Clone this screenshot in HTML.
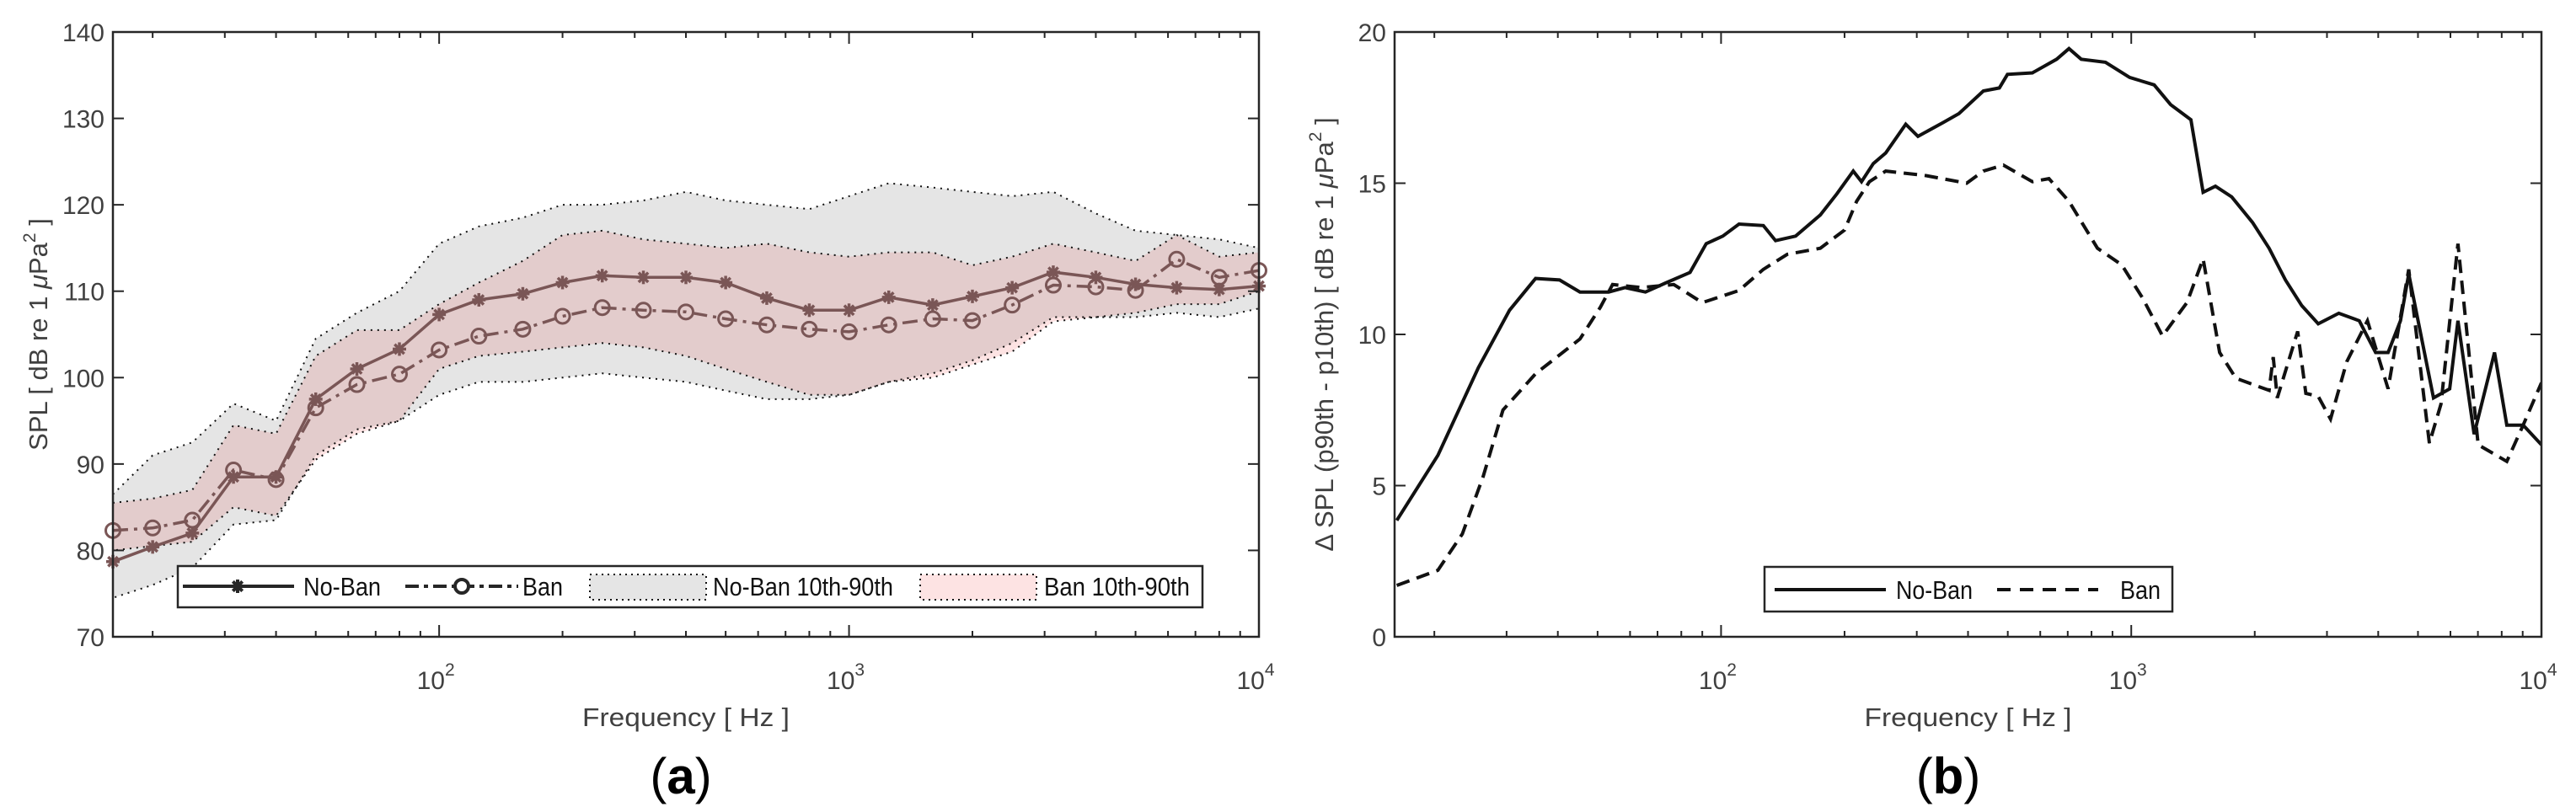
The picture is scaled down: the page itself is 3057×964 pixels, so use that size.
<!DOCTYPE html>
<html><head><meta charset="utf-8"><style>
html,body{margin:0;padding:0;background:#fff;}
svg{display:block;}
text{font-family:"Liberation Sans Narrow","Liberation Sans",sans-serif;}
</style></head><body>
<svg id="fig" width="3057" height="964" viewBox="0 0 3057 964" xmlns="http://www.w3.org/2000/svg">
<g id="pa"></g>
<g id="pb"></g>
</svg>
<script>
// ---------- Panel (a) data ----------
const bandsHz = [16,20,25,31.5,40,50,63,80,100,125,160,200,250,315,400,500,630,800,1000,1250,1600,2000,2500,3150,4000,5000,6300,8000,10000];
const noBanMedian = [78.7,80.4,82.0,88.5,88.5,97.5,101.0,103.3,107.3,109.0,109.7,111.0,111.8,111.6,111.6,111.0,109.2,107.8,107.8,109.3,108.4,109.4,110.4,112.2,111.6,110.8,110.4,110.2,110.6];
const banMedian = [82.3,82.6,83.5,89.3,88.2,96.5,99.2,100.4,103.2,104.8,105.6,107.1,108.1,107.8,107.6,106.8,106.1,105.6,105.3,106.1,106.8,106.6,108.4,110.7,110.5,110.1,113.7,111.6,112.4];
const noBanP90 = [86.5,91,92.5,97,95,104.5,107.5,110,115.5,117.5,118.5,120,120,120.5,121.5,120.5,120,119.5,121,122.5,122,121.5,121,121.5,119,117,116.5,116,115];
const noBanP10 = [74.5,76,78,83,83.5,91,94,95,98,99.5,99.5,100,100.5,100,99.5,98.5,97.5,97.5,98,99.5,100.5,102,104,107,107,107,107.5,107,108];
const banP90 = [85.5,86,87,94.5,93.5,102.5,105.5,105.5,108.5,111,113.5,116.5,117,116,115.5,115,115.5,114.5,114,114.5,114.5,113,114,115.5,114.5,113.5,116.5,114,114.5];
const banP10 = [80,80.5,81,85,84,90.5,93.5,95,101,102.5,103,103.5,104,103.5,102.5,101,99.5,98,98,99.5,100,101.5,103,106.5,107,107.5,108.5,108.5,110];
const yTicksA = [70,80,90,100,110,120,130,140];
// ---------- Panel (b) data ----------
const noBanF = [16.2,20.4,25.6,30.5,35.3,40.4,45.3,53.2,58.3,65.4,73.2,84,92,101,110.6,126.8,135.8,152,174.6,191.6,210,220,235,252,282,302,347,380,436,477,499,574,658,705,755,865,991,1137,1247,1398,1497,1604,1757,1976,2168,2376,2605,2856,3206,3597,3942,4227,4532,4748,5088,5456,5975,6257,6853,7684,8235,9024,10000];
const noBanDelta = [3.85,6.0,8.9,10.8,11.85,11.8,11.4,11.4,11.55,11.4,11.7,12.05,13.0,13.25,13.65,13.6,13.1,13.25,13.95,14.65,15.4,15.05,15.65,16.0,16.95,16.55,17.0,17.3,18.05,18.15,18.6,18.65,19.1,19.45,19.1,19.0,18.5,18.25,17.6,17.1,14.7,14.9,14.55,13.7,12.85,11.8,10.95,10.35,10.7,10.45,9.4,9.4,10.45,12.0,9.95,7.9,8.2,10.45,6.7,9.4,7.0,7.0,6.35];
const banF = [16.2,20.4,23.4,26.3,29.4,35.3,45.3,50.8,54.4,63.9,76.7,90,110.6,126.8,145,174.6,200,214,230,252,316,397,436,488,574,630,705,827,948,1066,1192,1367,1497,1642,1799,2168,2219,2270,2545,2664,2856,3060,3354,3765,4227,4748,5331,5690,6257,7011,8235,9024,10000];
const banDelta = [1.7,2.2,3.4,5.3,7.5,8.7,9.85,10.9,11.65,11.55,11.65,11.05,11.45,12.15,12.65,12.85,13.45,14.4,15.05,15.4,15.25,15.0,15.4,15.6,15.05,15.15,14.4,12.85,12.3,11.2,9.95,11.05,12.5,9.4,8.55,8.15,9.25,7.9,10.1,8.05,7.95,7.2,9.1,10.45,8.2,12.15,6.4,7.7,13.0,6.35,5.8,7.0,8.4];
const yTicksB = [0,5,10,15,20];
const xDecades = [2,3,4];

const NS='http://www.w3.org/2000/svg';
function mk(parent,tag,attrs,text){const e=document.createElementNS(NS,tag);for(const k in attrs)e.setAttribute(k,attrs[k]);if(text!==undefined)e.textContent=text;parent.appendChild(e);return e;}
const FMIN=16,FMAX=10000;

function axes(g,x0,x1,y0,y1,ymin,ymax){
  const sx=f=>x0+(Math.log10(f)-Math.log10(FMIN))/(Math.log10(FMAX)-Math.log10(FMIN))*(x1-x0);
  const sy=v=>y1-(v-ymin)/(ymax-ymin)*(y1-y0);
  return {sx,sy};
}
function frame(g,x0,x1,y0,y1,yt,sx,sy){
  const fr=mk(g,'rect',{x:x0,y:y0,width:x1-x0,height:y1-y0,fill:'none',stroke:'#262626','stroke-width':2.5});
  
  for(let d=1;d<=4;d++)for(let m=1;m<10;m++){const f=m*Math.pow(10,d);if(f<FMIN||f>FMAX)continue;const x=sx(f);const L=(m===1)?14:7;
    mk(g,'line',{x1:x,x2:x,y1:y1,y2:y1-L,stroke:'#262626','stroke-width':2});
    mk(g,'line',{x1:x,x2:x,y1:y0,y2:y0+L,stroke:'#262626','stroke-width':2});}
  xDecades.forEach(d=>{const x=sx(Math.pow(10,d));
    const t=mk(g,'text',{x:x-4,y:y1+62,'font-size':30,fill:'#404040','text-anchor':'middle'});
    
    mk(t,'tspan',{},'10');mk(t,'tspan',{dy:-16,'font-size':21},String(d));});
  yt.forEach(v=>{const y=sy(v);
    mk(g,'line',{x1:x0,x2:x0+13,y1:y,y2:y,stroke:'#262626','stroke-width':2});
    mk(g,'line',{x1:x1,x2:x1-13,y1:y,y2:y,stroke:'#262626','stroke-width':2});
    const t=mk(g,'text',{x:x0-10,y:y+11,'font-size':30,fill:'#404040','text-anchor':'end'},String(v));
    });
  const xt=mk(g,'text',{x:(x0+x1)/2,y:862,'font-size':31,fill:'#404040','text-anchor':'middle',textLength:246,lengthAdjust:'spacingAndGlyphs'},'Frequency [ Hz ]');
  
}
function pathFrom(xs,ys,sx,sy){return xs.map((f,i)=>(i?'L':'M')+sx(f).toFixed(1)+','+sy(ys[i]).toFixed(1)).join(' ');}
function bandPath(xs,hi,lo,sx,sy){let d=pathFrom(xs,hi,sx,sy);for(let i=xs.length-1;i>=0;i--)d+=' L'+sx(xs[i]).toFixed(1)+','+sy(lo[i]).toFixed(1);return d+' Z';}
function ltext(g,x,y,s,w,anchor){return mk(g,'text',{x:x,y:y,'font-size':31,fill:'#111','text-anchor':anchor||'start',textLength:w,lengthAdjust:'spacingAndGlyphs'},s);}

// ---------- Panel (a) ----------
(function(){
  const g=document.getElementById('pa');
  const x0=134,x1=1494,y0=38,y1=756;
  const {sx,sy}=axes(g,x0,x1,y0,y1,70,140);
  const clip=mk(g,'clipPath',{id:'ca'});mk(clip,'rect',{x:x0,y:y0,width:x1-x0,height:y1-y0});
  const pg=mk(g,'g',{'clip-path':'url(#ca)'});
  const gb=mk(pg,'path',{d:bandPath(bandsHz,noBanP90,noBanP10,sx,sy),fill:'#e5e5e5',stroke:'#111','stroke-width':2,'stroke-dasharray':'2 6'});
  
  const pb=mk(pg,'path',{d:bandPath(bandsHz,banP90,banP10,sx,sy),fill:'#fde3e3',stroke:'#111','stroke-width':2,'stroke-dasharray':'2 6',style:'mix-blend-mode:multiply'});
  
  const col='#7a5656';
  const bl=mk(pg,'path',{d:pathFrom(bandsHz,banMedian,sx,sy),fill:'none',stroke:col,'stroke-width':3.5,'stroke-dasharray':'18 7 4 7'});
  
  const nl=mk(pg,'path',{d:pathFrom(bandsHz,noBanMedian,sx,sy),fill:'none',stroke:col,'stroke-width':3.5});
  
  bandsHz.forEach((f,i)=>{
    const c=mk(g,'circle',{cx:sx(f),cy:sy(banMedian[i]),r:8.5,fill:'none',stroke:col,'stroke-width':3});
    
    const x=sx(f),y=sy(noBanMedian[i]);
    const s=mk(g,'g',{stroke:col,'stroke-width':3.5});
    
    for(let a=0;a<4;a++){const t=a*Math.PI/4;mk(s,'line',{x1:x-8*Math.cos(t),y1:y-8*Math.sin(t),x2:x+8*Math.cos(t),y2:y+8*Math.sin(t)});}
  });
  frame(g,x0,x1,y0,y1,yTicksA,sx,sy);
  const yl=mk(g,'text',{x:0,y:0,'font-size':31,fill:'#404040','text-anchor':'middle',transform:'translate(56,397) rotate(-90)'});
  
  yl.innerHTML='SPL [ dB re 1 <tspan font-style="italic">μ</tspan>Pa<tspan dy="-14" font-size="21">2</tspan><tspan dy="14"> ]</tspan>';
  const lg=mk(g,'g',{});
  mk(lg,'rect',{x:211,y:672,width:1216,height:49,fill:'#fff',stroke:'#262626','stroke-width':2.5});
  mk(lg,'line',{x1:217,x2:349,y1:696,y2:696,stroke:'#262626','stroke-width':4});
  const sm=mk(lg,'g',{stroke:'#262626','stroke-width':4});
  for(let a=0;a<4;a++){const t=a*Math.PI/4;mk(sm,'line',{x1:282-8*Math.cos(t),y1:696-8*Math.sin(t),x2:282+8*Math.cos(t),y2:696+8*Math.sin(t)});}
  ltext(lg,360,707,'No-Ban',92);
  mk(lg,'line',{x1:481,x2:615,y1:696,y2:696,stroke:'#262626','stroke-width':4,'stroke-dasharray':'16 6 5 6'});
  mk(lg,'circle',{cx:548,cy:696,r:8,fill:'#fff',stroke:'#262626','stroke-width':4});
  ltext(lg,620,707,'Ban',48);
  mk(lg,'rect',{x:700,y:682,width:138,height:30,fill:'#e5e5e5',stroke:'#111','stroke-width':2,'stroke-dasharray':'2 5'});
  ltext(lg,846,707,'No-Ban 10th-90th',214);
  mk(lg,'rect',{x:1092,y:682,width:138,height:30,fill:'#fde3e3',stroke:'#111','stroke-width':2,'stroke-dasharray':'2 5'});
  ltext(lg,1239,707,'Ban 10th-90th',173);
  const cap=mk(g,'text',{x:808,y:942,'font-size':60,'font-family':'Liberation Serif, serif','text-anchor':'middle',fill:'#000'});
  
  cap.innerHTML='(<tspan font-weight="bold">a</tspan>)';
})();

// ---------- Panel (b) ----------
(function(){
  const g=document.getElementById('pb');
  const x0=1655,x1=3016,y0=38,y1=756;
  const {sx,sy}=axes(g,x0,x1,y0,y1,0,20);
  const clip=mk(g,'clipPath',{id:'cb'});mk(clip,'rect',{x:x0,y:y0,width:x1-x0,height:y1-y0});
  const pg=mk(g,'g',{'clip-path':'url(#cb)'});
  const bl=mk(pg,'path',{d:pathFrom(banF,banDelta,sx,sy),fill:'none',stroke:'#111','stroke-width':4,'stroke-dasharray':'16 9'});
  
  const nl=mk(pg,'path',{d:pathFrom(noBanF,noBanDelta,sx,sy),fill:'none',stroke:'#111','stroke-width':4});
  
  frame(g,x0,x1,y0,y1,yTicksB,sx,sy);
  const yl=mk(g,'text',{x:0,y:0,'font-size':31,fill:'#404040','text-anchor':'middle',transform:'translate(1582,397) rotate(-90)'});
  
  yl.innerHTML='Δ SPL (p90th - p10th) [ dB re 1 <tspan font-style="italic">μ</tspan>Pa<tspan dy="-14" font-size="21">2</tspan><tspan dy="14"> ]</tspan>';
  const lg=mk(g,'g',{});
  mk(lg,'rect',{x:2094,y:673,width:484,height:53,fill:'#fff',stroke:'#262626','stroke-width':2.5});
  mk(lg,'line',{x1:2106,x2:2238,y1:700,y2:700,stroke:'#111','stroke-width':4});
  ltext(lg,2250,711,'No-Ban',91);
  mk(lg,'line',{x1:2370,x2:2490,y1:700,y2:700,stroke:'#111','stroke-width':4,'stroke-dasharray':'16 11'});
  ltext(lg,2516,711,'Ban',48);
  const cap=mk(g,'text',{x:2312,y:942,'font-size':60,'font-family':'Liberation Serif, serif','text-anchor':'middle',fill:'#000'});
  
  cap.innerHTML='(<tspan font-weight="bold">b</tspan>)';
})();
</script>
</body></html>
